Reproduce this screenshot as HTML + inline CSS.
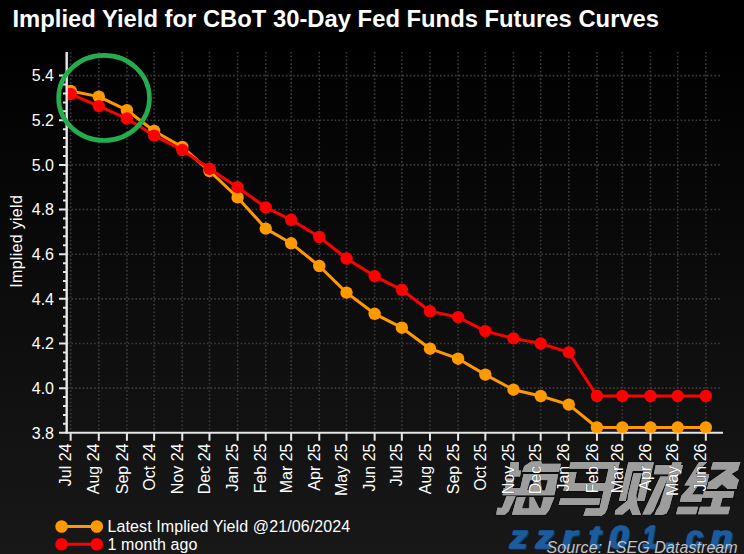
<!DOCTYPE html>
<html><head><meta charset="utf-8"><style>
html,body{margin:0;padding:0;}
body{width:744px;height:554px;overflow:hidden;background:linear-gradient(#000 0px,#000 40px,#181818 554px);}
svg{display:block;}
.t{font-family:"Liberation Sans",sans-serif;font-size:16px;fill:#fff;}
.ts{stroke:#000;stroke-opacity:0.5;stroke-width:0.8px;paint-order:stroke;}
.title{font-family:"Liberation Sans",sans-serif;font-weight:bold;font-size:23.8px;fill:#fff;}
.src{font-family:"Liberation Sans",sans-serif;font-style:italic;font-size:16px;fill:#c4c4c4;}
.zz{font-family:"Liberation Sans",sans-serif;font-style:italic;font-weight:bold;font-size:32px;stroke-width:1.6px;stroke-linejoin:round;}
</style></head><body>
<svg width="744" height="554" viewBox="0 0 744 554">
<defs><clipPath id="pc"><rect x="68" y="52" width="655" height="380.8"/></clipPath></defs>
<path d="M70.65 52V431.8M98.78 52V431.8M126.91 52V431.8M154.13 52V431.8M182.26 52V431.8M209.48 52V431.8M237.61 52V431.8M265.74 52V431.8M291.15 52V431.8M319.28 52V431.8M346.5 52V431.8M374.63 52V431.8M401.85 52V431.8M429.98 52V431.8M458.11 52V431.8M485.33 52V431.8M513.46 52V431.8M540.68 52V431.8M568.81 52V431.8M596.94 52V431.8M622.35 52V431.8M650.48 52V431.8M677.7 52V431.8M705.83 52V431.8M67.7 75.6H722M67.7 120.25H722M67.7 164.9H722M67.7 209.55H722M67.7 254.2H722M67.7 298.85H722M67.7 343.5H722M67.7 388.15H722" stroke="#3c3c3c" stroke-width="1.6" stroke-dasharray="1.6 2.16" fill="none"/>
<path d="M66.7 52V433.8M59 432.8H723M59 75.6H66.7M63 84.53H66.7M63 93.46H66.7M63 102.39H66.7M63 111.32H66.7M59 120.25H66.7M63 129.18H66.7M63 138.11H66.7M63 147.04H66.7M63 155.97H66.7M59 164.9H66.7M63 173.83H66.7M63 182.76H66.7M63 191.69H66.7M63 200.62H66.7M59 209.55H66.7M63 218.48H66.7M63 227.41H66.7M63 236.34H66.7M63 245.27H66.7M59 254.2H66.7M63 263.13H66.7M63 272.06H66.7M63 280.99H66.7M63 289.92H66.7M59 298.85H66.7M63 307.78H66.7M63 316.71H66.7M63 325.64H66.7M63 334.57H66.7M59 343.5H66.7M63 352.43H66.7M63 361.36H66.7M63 370.29H66.7M63 379.22H66.7M59 388.15H66.7M63 397.08H66.7M63 406.01H66.7M63 414.94H66.7M63 423.87H66.7M59 432.8H66.7M70.65 432.8V440.7M98.78 432.8V440.7M126.91 432.8V440.7M154.13 432.8V440.7M182.26 432.8V440.7M209.48 432.8V440.7M237.61 432.8V440.7M265.74 432.8V440.7M291.15 432.8V440.7M319.28 432.8V440.7M346.5 432.8V440.7M374.63 432.8V440.7M401.85 432.8V440.7M429.98 432.8V440.7M458.11 432.8V440.7M485.33 432.8V440.7M513.46 432.8V440.7M540.68 432.8V440.7M568.81 432.8V440.7M596.94 432.8V440.7M622.35 432.8V440.7M650.48 432.8V440.7M677.7 432.8V440.7M705.83 432.8V440.7" stroke="#e6e6e6" stroke-width="2" fill="none"/>
<g clip-path="url(#pc)"><polyline points="70.65,91 98.78,96.6 126.91,110.2 154.13,131 182.26,147 209.48,171 237.61,197.4 265.74,228.6 291.15,243.3 319.28,266 346.5,292.6 374.63,313.8 401.85,327.7 429.98,348.7 458.11,358.7 485.33,374.6 513.46,389.7 540.68,396 568.81,404.6 596.94,427.5 622.35,427.5 650.48,427.5 677.7,427.5 705.83,427.5" stroke="#ff9900" stroke-width="3" fill="none" stroke-linejoin="round"/><circle cx="70.65" cy="91" r="6.2" fill="#ff9900"/><circle cx="98.78" cy="96.6" r="6.2" fill="#ff9900"/><circle cx="126.91" cy="110.2" r="6.2" fill="#ff9900"/><circle cx="154.13" cy="131" r="6.2" fill="#ff9900"/><circle cx="182.26" cy="147" r="6.2" fill="#ff9900"/><circle cx="209.48" cy="171" r="6.2" fill="#ff9900"/><circle cx="237.61" cy="197.4" r="6.2" fill="#ff9900"/><circle cx="265.74" cy="228.6" r="6.2" fill="#ff9900"/><circle cx="291.15" cy="243.3" r="6.2" fill="#ff9900"/><circle cx="319.28" cy="266" r="6.2" fill="#ff9900"/><circle cx="346.5" cy="292.6" r="6.2" fill="#ff9900"/><circle cx="374.63" cy="313.8" r="6.2" fill="#ff9900"/><circle cx="401.85" cy="327.7" r="6.2" fill="#ff9900"/><circle cx="429.98" cy="348.7" r="6.2" fill="#ff9900"/><circle cx="458.11" cy="358.7" r="6.2" fill="#ff9900"/><circle cx="485.33" cy="374.6" r="6.2" fill="#ff9900"/><circle cx="513.46" cy="389.7" r="6.2" fill="#ff9900"/><circle cx="540.68" cy="396" r="6.2" fill="#ff9900"/><circle cx="568.81" cy="404.6" r="6.2" fill="#ff9900"/><circle cx="596.94" cy="427.5" r="6.2" fill="#ff9900"/><circle cx="622.35" cy="427.5" r="6.2" fill="#ff9900"/><circle cx="650.48" cy="427.5" r="6.2" fill="#ff9900"/><circle cx="677.7" cy="427.5" r="6.2" fill="#ff9900"/><circle cx="705.83" cy="427.5" r="6.2" fill="#ff9900"/><polyline points="70.65,94 98.78,106.1 126.91,118.5 154.13,135.6 182.26,150 209.48,168.8 237.61,187.2 265.74,207.4 291.15,219.8 319.28,237 346.5,258.5 374.63,276.1 401.85,289.8 429.98,311.3 458.11,317.1 485.33,331.1 513.46,338.4 540.68,343.5 568.81,352.4 596.94,396 622.35,396 650.48,396 677.7,396 705.83,396" stroke="#ff0000" stroke-width="3" fill="none" stroke-linejoin="round"/><circle cx="70.65" cy="94" r="6.2" fill="#ff0000"/><circle cx="98.78" cy="106.1" r="6.2" fill="#ff0000"/><circle cx="126.91" cy="118.5" r="6.2" fill="#ff0000"/><circle cx="154.13" cy="135.6" r="6.2" fill="#ff0000"/><circle cx="182.26" cy="150" r="6.2" fill="#ff0000"/><circle cx="209.48" cy="168.8" r="6.2" fill="#ff0000"/><circle cx="237.61" cy="187.2" r="6.2" fill="#ff0000"/><circle cx="265.74" cy="207.4" r="6.2" fill="#ff0000"/><circle cx="291.15" cy="219.8" r="6.2" fill="#ff0000"/><circle cx="319.28" cy="237" r="6.2" fill="#ff0000"/><circle cx="346.5" cy="258.5" r="6.2" fill="#ff0000"/><circle cx="374.63" cy="276.1" r="6.2" fill="#ff0000"/><circle cx="401.85" cy="289.8" r="6.2" fill="#ff0000"/><circle cx="429.98" cy="311.3" r="6.2" fill="#ff0000"/><circle cx="458.11" cy="317.1" r="6.2" fill="#ff0000"/><circle cx="485.33" cy="331.1" r="6.2" fill="#ff0000"/><circle cx="513.46" cy="338.4" r="6.2" fill="#ff0000"/><circle cx="540.68" cy="343.5" r="6.2" fill="#ff0000"/><circle cx="568.81" cy="352.4" r="6.2" fill="#ff0000"/><circle cx="596.94" cy="396" r="6.2" fill="#ff0000"/><circle cx="622.35" cy="396" r="6.2" fill="#ff0000"/><circle cx="650.48" cy="396" r="6.2" fill="#ff0000"/><circle cx="677.7" cy="396" r="6.2" fill="#ff0000"/><circle cx="705.83" cy="396" r="6.2" fill="#ff0000"/></g>
<path d="M66.7 52V433.8" stroke="#e6e6e6" stroke-width="2"/>
<text x="54" y="81.4" text-anchor="end" class="t">5.4</text>
<text x="54" y="126.05" text-anchor="end" class="t">5.2</text>
<text x="54" y="170.7" text-anchor="end" class="t">5.0</text>
<text x="54" y="215.35" text-anchor="end" class="t">4.8</text>
<text x="54" y="260" text-anchor="end" class="t">4.6</text>
<text x="54" y="304.65" text-anchor="end" class="t">4.4</text>
<text x="54" y="349.3" text-anchor="end" class="t">4.2</text>
<text x="54" y="393.95" text-anchor="end" class="t">4.0</text>
<text x="54" y="438.6" text-anchor="end" class="t">3.8</text>
<path d="M510.5 462.1L519.0 462.1L518.6 470.4L521.2 470.4L520.0 476.4L508.8 476.4ZM506.6 478.6L514.0 478.6L512.5 488.0L505.0 488.0ZM506.4 496.3L515.7 496.3L508.6 511.4L504.8 514.7L496.2 514.7L497.2 507.7L502.1 507.7ZM522.1 471.9L524.3 466.1L531.3 461.5L541.4 461.2L542.0 463.7L561.0 463.7L559.0 471.9ZM523.5 474.1L558.2 474.1L555.3 490.0L519.8 490.0ZM503.7 488.0L556.0 488.0L554.3 495.2L502.5 495.2ZM516.8 497.2L554.5 497.2L549.0 510.5L545.5 514.7L511.9 514.7ZM570.6 462.1L619.8 462.1L618.2 468.8L569.0 468.8ZM610.0 462.1L619.8 462.1L607.2 508.8L599.5 508.8ZM585.9 508.2L607.6 508.2L605.0 513.5L601.5 515.7L583.3 515.7ZM569.2 472.1L576.6 472.1L574.4 483.0L564.7 483.0ZM565.0 482.9L615.2 482.9L613.0 491.0L563.2 491.0ZM560.5 498.2L600.5 498.2L599.0 505.0L558.6 505.0ZM628.3 462.3L654.0 462.3L644.4 500.9L637.0 500.9L643.5 471.0L632.5 471.0L625.6 500.9L618.8 500.9ZM633.5 473.2L641.6 473.2L636.2 495.0L637.3 504.7L641.0 514.9L632.4 514.9L629.7 508.4L622.8 514.4L614.7 514.4L615.2 510.6L619.5 506.8L627.6 500.4L628.1 495.0ZM655.7 465.0L683.0 465.0L681.0 474.2L653.8 474.2ZM672.5 462.3L681.7 462.3L669.5 507.5L666.5 513.5L662.0 515.0L654.5 515.0L656.5 510.0L659.7 505.0L665.4 486.0ZM660.3 476.4L668.4 476.4L653.5 511.0L650.5 514.5L642.3 514.5ZM699.0 462.1L707.2 462.1L695.0 474.2L709.3 474.2L706.6 485.5L698.2 485.5L692.0 494.6L702.8 494.6L701.2 502.0L679.8 502.0L681.3 495.8L690.6 485.5L684.3 485.5ZM678.0 506.8L698.2 506.8L696.0 514.3L676.0 514.3ZM713.0 462.1L740.5 462.1L738.0 469.4L710.8 469.4ZM727.0 469.4L739.0 469.4L716.0 482.9L707.6 482.9ZM721.0 474.5L731.0 473.5L739.0 480.0L737.8 483.5L713.0 483.5ZM708.5 482.9L737.8 482.9L736.5 488.9L706.9 488.9ZM704.1 491.0L734.3 491.0L733.0 497.8L702.0 497.8ZM713.0 497.8L722.6 497.8L719.9 507.4L710.3 507.4ZM700.0 506.8L730.2 506.8L728.2 514.3L698.0 514.3Z" fill="#9d9d9d" stroke="#0a0a0a" stroke-width="1.4" stroke-linejoin="round" paint-order="stroke"/><path d="M510.5 462.1L519.0 462.1L518.6 470.4L521.2 470.4L520.0 476.4L508.8 476.4ZM506.6 478.6L514.0 478.6L512.5 488.0L505.0 488.0ZM506.4 496.3L515.7 496.3L508.6 511.4L504.8 514.7L496.2 514.7L497.2 507.7L502.1 507.7ZM522.1 471.9L524.3 466.1L531.3 461.5L541.4 461.2L542.0 463.7L561.0 463.7L559.0 471.9ZM523.5 474.1L558.2 474.1L555.3 490.0L519.8 490.0ZM503.7 488.0L556.0 488.0L554.3 495.2L502.5 495.2ZM516.8 497.2L554.5 497.2L549.0 510.5L545.5 514.7L511.9 514.7ZM570.6 462.1L619.8 462.1L618.2 468.8L569.0 468.8ZM610.0 462.1L619.8 462.1L607.2 508.8L599.5 508.8ZM585.9 508.2L607.6 508.2L605.0 513.5L601.5 515.7L583.3 515.7ZM569.2 472.1L576.6 472.1L574.4 483.0L564.7 483.0ZM565.0 482.9L615.2 482.9L613.0 491.0L563.2 491.0ZM560.5 498.2L600.5 498.2L599.0 505.0L558.6 505.0ZM628.3 462.3L654.0 462.3L644.4 500.9L637.0 500.9L643.5 471.0L632.5 471.0L625.6 500.9L618.8 500.9ZM633.5 473.2L641.6 473.2L636.2 495.0L637.3 504.7L641.0 514.9L632.4 514.9L629.7 508.4L622.8 514.4L614.7 514.4L615.2 510.6L619.5 506.8L627.6 500.4L628.1 495.0ZM655.7 465.0L683.0 465.0L681.0 474.2L653.8 474.2ZM672.5 462.3L681.7 462.3L669.5 507.5L666.5 513.5L662.0 515.0L654.5 515.0L656.5 510.0L659.7 505.0L665.4 486.0ZM660.3 476.4L668.4 476.4L653.5 511.0L650.5 514.5L642.3 514.5ZM699.0 462.1L707.2 462.1L695.0 474.2L709.3 474.2L706.6 485.5L698.2 485.5L692.0 494.6L702.8 494.6L701.2 502.0L679.8 502.0L681.3 495.8L690.6 485.5L684.3 485.5ZM678.0 506.8L698.2 506.8L696.0 514.3L676.0 514.3ZM713.0 462.1L740.5 462.1L738.0 469.4L710.8 469.4ZM727.0 469.4L739.0 469.4L716.0 482.9L707.6 482.9ZM721.0 474.5L731.0 473.5L739.0 480.0L737.8 483.5L713.0 483.5ZM708.5 482.9L737.8 482.9L736.5 488.9L706.9 488.9ZM704.1 491.0L734.3 491.0L733.0 497.8L702.0 497.8ZM713.0 497.8L722.6 497.8L719.9 507.4L710.3 507.4ZM700.0 506.8L730.2 506.8L728.2 514.3L698.0 514.3Z" fill="#9d9d9d"/><path d="M530.6 480.6L534.5 480.6L527.8 490.0ZM541.0 480.6L547.1 480.6L544.6 490.0L542.5 490.0ZM526.2 497.2L528.9 497.2L528.6 507.7L522.7 507.7ZM534.3 497.2L543.0 497.2L540.3 507.7L539.5 507.7ZM717.2 488.9L726.8 488.9L722.0 484.8Z" fill="#141414" stroke="#0a0a0a" stroke-width="0.8"/>
<text transform="translate(71.25 443.5) rotate(-90)" text-anchor="end" class="t">Jul 24</text>
<text transform="translate(99.38 443.5) rotate(-90)" text-anchor="end" class="t">Aug 24</text>
<text transform="translate(127.51 443.5) rotate(-90)" text-anchor="end" class="t">Sep 24</text>
<text transform="translate(154.73 443.5) rotate(-90)" text-anchor="end" class="t">Oct 24</text>
<text transform="translate(182.86 443.5) rotate(-90)" text-anchor="end" class="t">Nov 24</text>
<text transform="translate(210.08 443.5) rotate(-90)" text-anchor="end" class="t">Dec 24</text>
<text transform="translate(238.21 443.5) rotate(-90)" text-anchor="end" class="t">Jan 25</text>
<text transform="translate(266.34 443.5) rotate(-90)" text-anchor="end" class="t">Feb 25</text>
<text transform="translate(291.75 443.5) rotate(-90)" text-anchor="end" class="t">Mar 25</text>
<text transform="translate(319.88 443.5) rotate(-90)" text-anchor="end" class="t">Apr 25</text>
<text transform="translate(347.1 443.5) rotate(-90)" text-anchor="end" class="t">May 25</text>
<text transform="translate(375.23 443.5) rotate(-90)" text-anchor="end" class="t">Jun 25</text>
<text transform="translate(402.45 443.5) rotate(-90)" text-anchor="end" class="t">Jul 25</text>
<text transform="translate(430.58 443.5) rotate(-90)" text-anchor="end" class="t">Aug 25</text>
<text transform="translate(458.71 443.5) rotate(-90)" text-anchor="end" class="t">Sep 25</text>
<text transform="translate(485.93 443.5) rotate(-90)" text-anchor="end" class="t ts">Oct 25</text>
<text transform="translate(514.06 443.5) rotate(-90)" text-anchor="end" class="t ts">Nov 25</text>
<text transform="translate(541.28 443.5) rotate(-90)" text-anchor="end" class="t ts">Dec 25</text>
<text transform="translate(569.41 443.5) rotate(-90)" text-anchor="end" class="t ts">Jan 26</text>
<text transform="translate(597.54 443.5) rotate(-90)" text-anchor="end" class="t ts">Feb 26</text>
<text transform="translate(622.95 443.5) rotate(-90)" text-anchor="end" class="t ts">Mar 26</text>
<text transform="translate(651.08 443.5) rotate(-90)" text-anchor="end" class="t ts">Apr 26</text>
<text transform="translate(678.3 443.5) rotate(-90)" text-anchor="end" class="t ts">May 26</text>
<text transform="translate(706.43 443.5) rotate(-90)" text-anchor="end" class="t ts">Jun 26</text>
<text transform="translate(21.6 241.3) rotate(-90)" text-anchor="middle" class="t" letter-spacing="0.3">Implied yield</text>
<path d="M61.6 526.5H96.8" stroke="#ff9900" stroke-width="3"/><circle cx="61.6" cy="526.5" r="6.3" fill="#ff9900"/><circle cx="96.8" cy="526.5" r="6.3" fill="#ff9900"/>
<path d="M61.6 544.2H96.8" stroke="#ff0000" stroke-width="3"/><circle cx="61.6" cy="544.2" r="6.3" fill="#ff0000"/><circle cx="96.8" cy="544.2" r="6.3" fill="#ff0000"/>
<text x="107.5" y="532.2" class="t" letter-spacing="0.1">Latest Implied Yield @21/06/2024</text>
<text x="107.5" y="549.6" class="t" letter-spacing="0.1">1 month ago</text>
<ellipse cx="104.05" cy="97.95" rx="45.45" ry="42.55" fill="none" stroke="#24ad4e" stroke-width="4.6"/>
<text x="12.5" y="26.6" class="title">Implied Yield for CBoT 30-Day Fed Funds Futures Curves</text>
<text transform="translate(510.9 549.2) scale(1.1 1)" class="zz" fill="#0c355f" stroke="#0c355f">z</text><text transform="translate(537.0 549.2) scale(1.1 1)" class="zz" fill="#0c355f" stroke="#0c355f">z</text><text transform="translate(563.2 549.2) scale(1.2 1)" class="zz" fill="#0c355f" stroke="#0c355f">r</text><text transform="translate(589.9000000000001 549.2) scale(1.12 1)" class="zz" fill="#0c355f" stroke="#0c355f">t</text><text transform="translate(609.9000000000001 549.2) scale(1.12 1)" class="zz" fill="#0c355f" stroke="#0c355f">0</text><text transform="translate(643.7 549.2) scale(0.82 1)" class="zz" fill="#0c355f" stroke="#0c355f">1</text><text transform="translate(666.0 549.2) scale(1.3 1)" class="zz" fill="#0c355f" stroke="#0c355f">.</text><text transform="translate(687.2 549.2) scale(0.95 1)" class="zz" fill="#0c355f" stroke="#0c355f">c</text><text transform="translate(711.5 549.2) scale(1.15 1)" class="zz" fill="#0c355f" stroke="#0c355f">n</text><text transform="translate(509.7 548.2) scale(1.1 1)" class="zz" fill="#1c5c9c" stroke="#1c5c9c">z</text><text transform="translate(535.8 548.2) scale(1.1 1)" class="zz" fill="#1c5c9c" stroke="#1c5c9c">z</text><text transform="translate(562 548.2) scale(1.2 1)" class="zz" fill="#1c5c9c" stroke="#1c5c9c">r</text><text transform="translate(588.7 548.2) scale(1.12 1)" class="zz" fill="#1c5c9c" stroke="#1c5c9c">t</text><text transform="translate(608.7 548.2) scale(1.12 1)" class="zz" fill="#1c5c9c" stroke="#1c5c9c">0</text><text transform="translate(642.5 548.2) scale(0.82 1)" class="zz" fill="#1c5c9c" stroke="#1c5c9c">1</text><text transform="translate(664.8 548.2) scale(1.3 1)" class="zz" fill="#1c5c9c" stroke="#1c5c9c">.</text><text transform="translate(686 548.2) scale(0.95 1)" class="zz" fill="#1c5c9c" stroke="#1c5c9c">c</text><text transform="translate(710.3 548.2) scale(1.15 1)" class="zz" fill="#1c5c9c" stroke="#1c5c9c">n</text>
<text x="546.5" y="553.3" class="src" letter-spacing="0.08">Source: LSEG Datastream</text>
</svg>
</body></html>
